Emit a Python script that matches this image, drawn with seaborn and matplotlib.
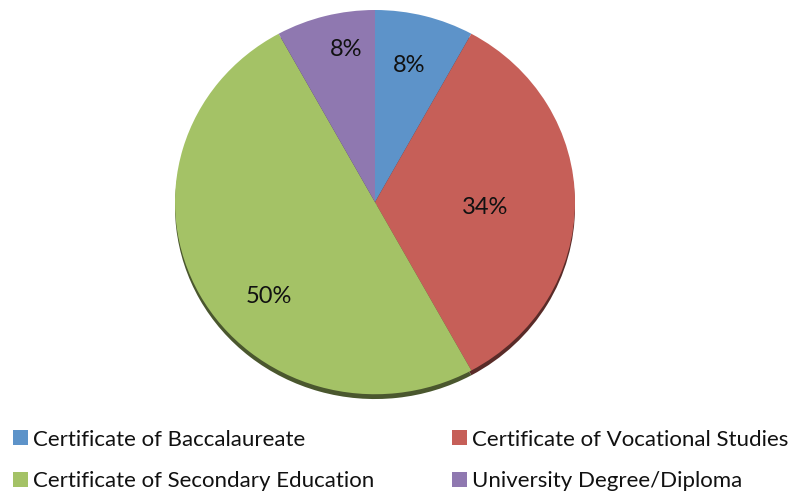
import numpy as np
import matplotlib
matplotlib.use("Agg")
import matplotlib.pyplot as plt
import matplotlib.colors as mcolors
from matplotlib.patches import Patch
import seaborn as sns

categories = ['Certificate of Baccalaureate', 'Certificate of Vocational Studies',
              'Certificate of Secondary Education', 'University Degree/Diploma']
shares = [8, 34, 50, 8]
colors = ['#5d93c9', '#c65f58', '#a4c266', '#8f78b0']
# label placement: fraction of radius, angular nudge (deg)
label_dist = [0.73, 0.55, 0.72, 0.81]
label_nudge = [1, -3, 14, -4]

sns.set_theme(style="white")
plt.rcParams['font.family'] = ['Lato', 'DejaVu Sans']

fig = plt.figure(figsize=(7.95, 4.93), dpi=100)
W, H = 795, 493
# pie area in pixels: left 175, right 575, top 10, bottom 400
ax = fig.add_axes([175 / W, (H - 400) / H, 400 / W, 390 / H])

palette = sns.color_palette(colors)
dark = [tuple(np.array(mcolors.to_rgb(c)) * 0.45) for c in palette]

# shadow underneath
ax.pie(shares, colors=dark, startangle=90, counterclock=False, radius=1.0,
       center=(0, -0.025), wedgeprops=dict(linewidth=0))
wedges, _ = ax.pie(shares, colors=palette, startangle=90, counterclock=False,
                   radius=1.0, wedgeprops=dict(linewidth=0))

for w, v, d, n in zip(wedges, shares, label_dist, label_nudge):
    ang = np.deg2rad((w.theta1 + w.theta2) / 2 + n)
    ax.text(d * np.cos(ang), d * np.sin(ang), f"{v}%", ha='center', va='center',
            fontsize=17, color='#111111')

ax.set_aspect('auto')
ax.set_xlim(-1, 1)
ax.set_ylim(-1.03, 1)
ax.axis('off')

order = [0, 2, 1, 3]
handles = [Patch(facecolor=palette[i], edgecolor='none') for i in order]
labels = [categories[i] for i in order]
fig.legend(handles, labels, ncol=2, loc='lower left', bbox_to_anchor=(0.0, -0.024),
           frameon=False, fontsize=16, handlelength=0.65, handleheight=0.65,
           handletextpad=0.25, columnspacing=3.5, labelspacing=0.98,
           borderaxespad=0.2, labelcolor='#111111')

fig.savefig('out.png', dpi=100)
